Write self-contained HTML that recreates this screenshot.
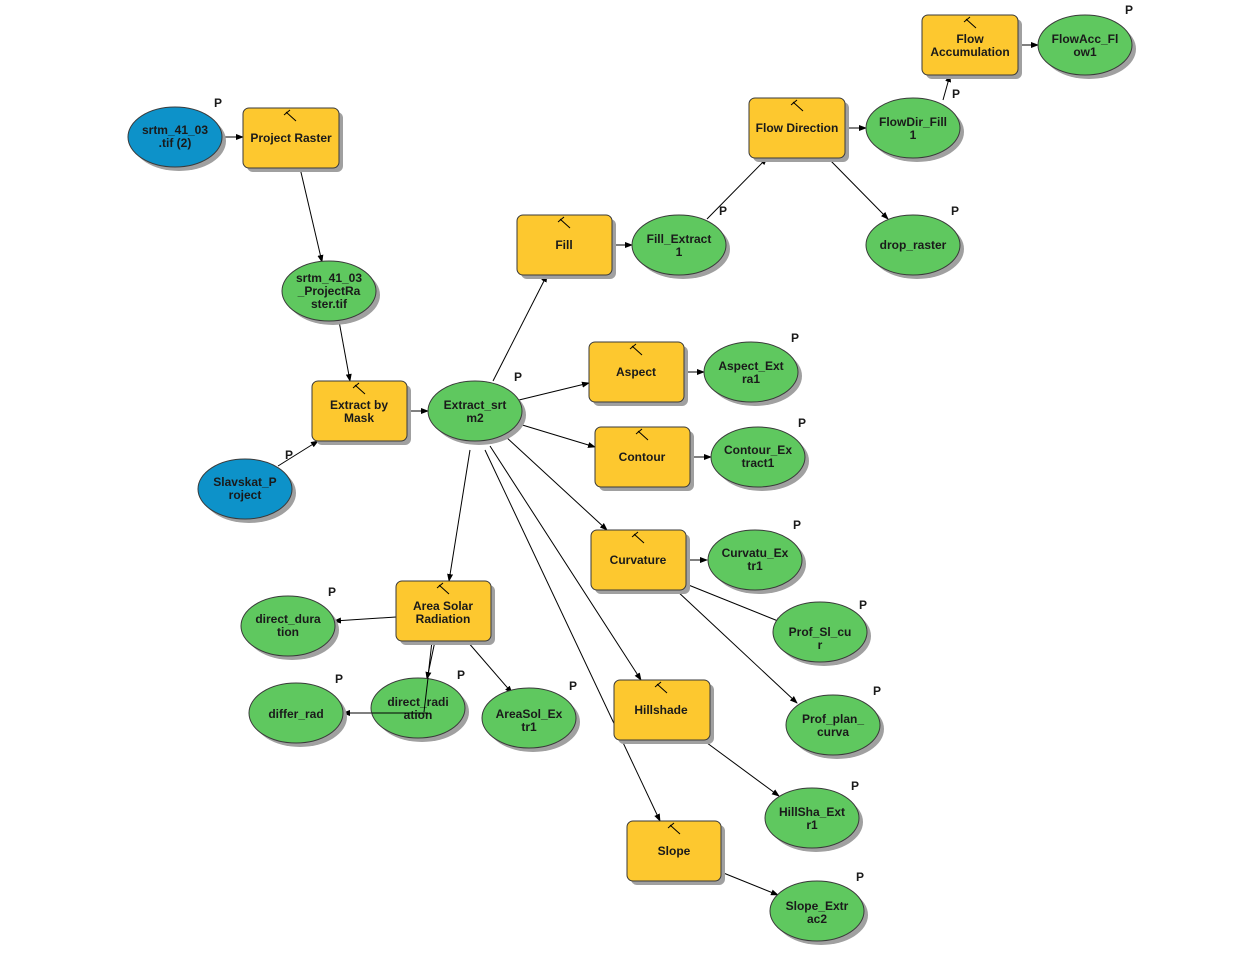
<!DOCTYPE html>
<html><head><meta charset="utf-8"><style>
html,body{margin:0;padding:0;background:#fff;}
svg{display:block;}
text{font-family:"Liberation Sans",Arial,sans-serif;font-size:12px;font-weight:bold;fill:#1a1a1a;text-anchor:middle;}
.p{font-size:12px;text-anchor:start;}
.sh{fill:#a0a0a0;}
.t{fill:#fdc82f;stroke:#3a3a3a;stroke-width:1;}
.g{fill:#5fc85f;stroke:#3a3a3a;stroke-width:1;}
.b{fill:#0d92c9;stroke:#3a3a3a;stroke-width:1;}
line{stroke:#000;stroke-width:1;}
.ham{stroke:#888;stroke-width:1.2;}
</style></head><body>
<svg width="1260" height="957" viewBox="0 0 1260 957" xmlns="http://www.w3.org/2000/svg">
<defs>
<marker id="a" markerWidth="8" markerHeight="6" refX="7" refY="3" orient="auto" markerUnits="userSpaceOnUse">
<path d="M0,0 L8,3 L0,6 z" fill="#000"/></marker>
</defs>

<g marker-end="url(#a)">
<line x1="222" y1="137" x2="243" y2="137"/>
<line x1="300" y1="168" x2="322" y2="262"/>
<line x1="339" y1="321" x2="350" y2="381"/>
<line x1="278" y1="466" x2="318" y2="441"/>
<line x1="407" y1="411" x2="428" y2="411"/>
<line x1="493" y1="381" x2="547" y2="275"/>
<line x1="612" y1="245" x2="632" y2="245"/>
<line x1="707" y1="219" x2="767" y2="158"/>
<line x1="845" y1="128" x2="866" y2="128"/>
<line x1="828" y1="158" x2="888" y2="219"/>
<line x1="943" y1="100" x2="950" y2="75"/>
<line x1="1018" y1="45" x2="1038" y2="45"/>
<line x1="519" y1="400" x2="589" y2="383"/>
<line x1="684" y1="372" x2="704" y2="372"/>
<line x1="519" y1="424" x2="595" y2="447"/>
<line x1="690" y1="457" x2="711" y2="457"/>
<line x1="505" y1="436" x2="607" y2="530"/>
<line x1="686" y1="560" x2="707" y2="560"/>
<line x1="686" y1="584" x2="783" y2="623"/>
<line x1="676" y1="590" x2="797" y2="703"/>
<line x1="490" y1="446" x2="641" y2="680"/>
<line x1="703" y1="740" x2="779" y2="796"/>
<line x1="470" y1="450" x2="449" y2="581"/>
<line x1="485" y1="450" x2="660" y2="821"/>
<line x1="721" y1="872" x2="778" y2="895"/>
<line x1="396" y1="617" x2="334" y2="621"/>
<line x1="435" y1="641" x2="427" y2="679"/>
<line x1="430" y1="713" x2="343" y2="713"/>
<line x1="467" y1="641" x2="512" y2="693"/>
</g>
<line x1="432" y1="641" x2="424" y2="712"/>

<g>
<g><rect class="sh" x="247" y="112" width="96" height="60" rx="6"/><rect class="t" x="243" y="108" width="96" height="60" rx="6"/><text x="291" y="142">Project Raster</text></g>
<g><rect class="sh" x="316" y="385" width="95" height="60" rx="6"/><rect class="t" x="312" y="381" width="95" height="60" rx="6"/><text x="359" y="409">Extract by</text><text x="359" y="422">Mask</text></g>
<g><rect class="sh" x="521" y="219" width="95" height="60" rx="6"/><rect class="t" x="517" y="215" width="95" height="60" rx="6"/><text x="564" y="249">Fill</text></g>
<g><rect class="sh" x="753" y="102" width="96" height="60" rx="6"/><rect class="t" x="749" y="98" width="96" height="60" rx="6"/><text x="797" y="132">Flow Direction</text></g>
<g><rect class="sh" x="926" y="19" width="96" height="60" rx="6"/><rect class="t" x="922" y="15" width="96" height="60" rx="6"/><text x="970" y="43">Flow</text><text x="970" y="56">Accumulation</text></g>
<g><rect class="sh" x="593" y="346" width="95" height="60" rx="6"/><rect class="t" x="589" y="342" width="95" height="60" rx="6"/><text x="636" y="376">Aspect</text></g>
<g><rect class="sh" x="599" y="431" width="95" height="60" rx="6"/><rect class="t" x="595" y="427" width="95" height="60" rx="6"/><text x="642" y="461">Contour</text></g>
<g><rect class="sh" x="595" y="534" width="95" height="60" rx="6"/><rect class="t" x="591" y="530" width="95" height="60" rx="6"/><text x="638" y="564">Curvature</text></g>
<g><rect class="sh" x="400" y="585" width="95" height="60" rx="6"/><rect class="t" x="396" y="581" width="95" height="60" rx="6"/><text x="443" y="610">Area Solar</text><text x="443" y="623">Radiation</text></g>
<g><rect class="sh" x="618" y="684" width="96" height="60" rx="6"/><rect class="t" x="614" y="680" width="96" height="60" rx="6"/><text x="661" y="714">Hillshade</text></g>
<g><rect class="sh" x="631" y="825" width="94" height="60" rx="6"/><rect class="t" x="627" y="821" width="94" height="60" rx="6"/><text x="674" y="855">Slope</text></g>
</g>
<g class="ham">
<line x1="286" y1="112" x2="296" y2="121"/><line x1="284" y1="115" x2="290" y2="110"/>
<line x1="355" y1="385" x2="365" y2="394"/><line x1="353" y1="388" x2="359" y2="383"/>
<line x1="560" y1="219" x2="570" y2="228"/><line x1="558" y1="222" x2="564" y2="217"/>
<line x1="793" y1="102" x2="803" y2="111"/><line x1="791" y1="105" x2="797" y2="100"/>
<line x1="966" y1="19" x2="976" y2="28"/><line x1="964" y1="22" x2="970" y2="17"/>
<line x1="632" y1="346" x2="642" y2="355"/><line x1="630" y1="349" x2="636" y2="344"/>
<line x1="638" y1="431" x2="648" y2="440"/><line x1="636" y1="434" x2="642" y2="429"/>
<line x1="634" y1="534" x2="644" y2="543"/><line x1="632" y1="537" x2="638" y2="532"/>
<line x1="439" y1="585" x2="449" y2="594"/><line x1="437" y1="588" x2="443" y2="583"/>
<line x1="657" y1="684" x2="667" y2="693"/><line x1="655" y1="687" x2="661" y2="682"/>
<line x1="670" y1="825" x2="680" y2="834"/><line x1="668" y1="828" x2="674" y2="823"/>
</g>

<g>
<ellipse class="sh" cx="179" cy="141" rx="47" ry="30"/><ellipse class="b" cx="175" cy="137" rx="47" ry="30"/><text x="175" y="134">srtm_41_03</text><text x="175" y="147">.tif (2)</text>
<ellipse class="sh" cx="333" cy="295" rx="47" ry="30"/><ellipse class="g" cx="329" cy="291" rx="47" ry="30"/><text x="329" y="282">srtm_41_03</text><text x="329" y="295">_ProjectRa</text><text x="329" y="308">ster.tif</text>
<ellipse class="sh" cx="249" cy="493" rx="47" ry="30"/><ellipse class="b" cx="245" cy="489" rx="47" ry="30"/><text x="245" y="486">Slavskat_P</text><text x="245" y="499">roject</text>
<ellipse class="sh" cx="479" cy="415" rx="47" ry="30"/><ellipse class="g" cx="475" cy="411" rx="47" ry="30"/><text x="475" y="409">Extract_srt</text><text x="475" y="422">m2</text>
<ellipse class="sh" cx="683" cy="249" rx="47" ry="30"/><ellipse class="g" cx="679" cy="245" rx="47" ry="30"/><text x="679" y="243">Fill_Extract</text><text x="679" y="256">1</text>
<ellipse class="sh" cx="917" cy="132" rx="47" ry="30"/><ellipse class="g" cx="913" cy="128" rx="47" ry="30"/><text x="913" y="126">FlowDir_Fill</text><text x="913" y="139">1</text>
<ellipse class="sh" cx="917" cy="249" rx="47" ry="30"/><ellipse class="g" cx="913" cy="245" rx="47" ry="30"/><text x="913" y="249">drop_raster</text>
<ellipse class="sh" cx="1089" cy="49" rx="47" ry="30"/><ellipse class="g" cx="1085" cy="45" rx="47" ry="30"/><text x="1085" y="43">FlowAcc_Fl</text><text x="1085" y="56">ow1</text>
<ellipse class="sh" cx="755" cy="376" rx="47" ry="30"/><ellipse class="g" cx="751" cy="372" rx="47" ry="30"/><text x="751" y="370">Aspect_Ext</text><text x="751" y="383">ra1</text>
<ellipse class="sh" cx="762" cy="461" rx="47" ry="30"/><ellipse class="g" cx="758" cy="457" rx="47" ry="30"/><text x="758" y="454">Contour_Ex</text><text x="758" y="467">tract1</text>
<ellipse class="sh" cx="759" cy="564" rx="47" ry="30"/><ellipse class="g" cx="755" cy="560" rx="47" ry="30"/><text x="755" y="557">Curvatu_Ex</text><text x="755" y="570">tr1</text>
<ellipse class="sh" cx="824" cy="636" rx="47" ry="30"/><ellipse class="g" cx="820" cy="632" rx="47" ry="30"/><text x="820" y="636">Prof_Sl_cu</text><text x="820" y="649">r</text>
<ellipse class="sh" cx="837" cy="729" rx="47" ry="30"/><ellipse class="g" cx="833" cy="725" rx="47" ry="30"/><text x="833" y="723">Prof_plan_</text><text x="833" y="736">curva</text>
<ellipse class="sh" cx="816" cy="822" rx="47" ry="30"/><ellipse class="g" cx="812" cy="818" rx="47" ry="30"/><text x="812" y="816">HillSha_Ext</text><text x="812" y="829">r1</text>
<ellipse class="sh" cx="821" cy="915" rx="47" ry="30"/><ellipse class="g" cx="817" cy="911" rx="47" ry="30"/><text x="817" y="910">Slope_Extr</text><text x="817" y="923">ac2</text>
<ellipse class="sh" cx="292" cy="630" rx="47" ry="30"/><ellipse class="g" cx="288" cy="626" rx="47" ry="30"/><text x="288" y="623">direct_dura</text><text x="288" y="636">tion</text>
<ellipse class="sh" cx="300" cy="717" rx="47" ry="30"/><ellipse class="g" cx="296" cy="713" rx="47" ry="30"/><text x="296" y="718">differ_rad</text>
<ellipse class="sh" cx="422" cy="712" rx="47" ry="30"/><ellipse class="g" cx="418" cy="708" rx="47" ry="30"/><text x="418" y="706">direct_radi</text><text x="418" y="719">ation</text>
<ellipse class="sh" cx="533" cy="722" rx="47" ry="30"/><ellipse class="g" cx="529" cy="718" rx="47" ry="30"/><text x="529" y="718">AreaSol_Ex</text><text x="529" y="731">tr1</text>
</g>
<line x1="428" y1="678" x2="424" y2="712"/>
<line x1="428" y1="713" x2="372" y2="713"/>

<g>
<text class="p" x="214" y="107">P</text>
<text class="p" x="514" y="381">P</text>
<text class="p" x="285" y="459">P</text>
<text class="p" x="719" y="215">P</text>
<text class="p" x="952" y="98">P</text>
<text class="p" x="951" y="215">P</text>
<text class="p" x="1125" y="14">P</text>
<text class="p" x="791" y="342">P</text>
<text class="p" x="798" y="427">P</text>
<text class="p" x="793" y="529">P</text>
<text class="p" x="859" y="609">P</text>
<text class="p" x="873" y="695">P</text>
<text class="p" x="851" y="790">P</text>
<text class="p" x="856" y="881">P</text>
<text class="p" x="328" y="596">P</text>
<text class="p" x="335" y="683">P</text>
<text class="p" x="457" y="679">P</text>
<text class="p" x="569" y="690">P</text>
</g>
</svg>
</body></html>
